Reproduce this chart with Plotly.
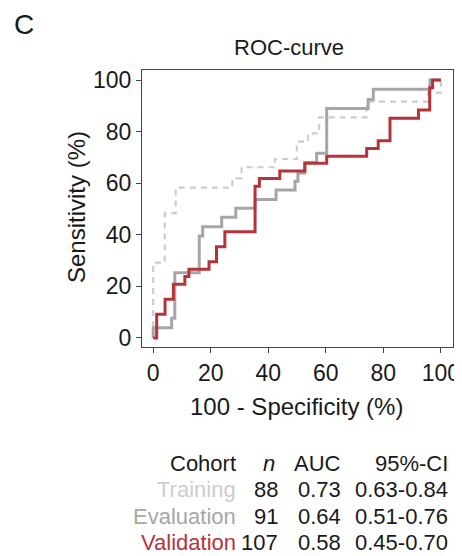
import plotly.graph_objects as go

# ---- data (step corners: x = 100 - specificity, y = sensitivity)
train_x = [0, 0, 4.0, 7.8, 27.5, 30.7, 42.3, 49.9, 53.8, 57.7, 74.2, 95.6, 100]
train_y = [0, 29.2, 48.4, 58.3, 61.9, 66.2, 69.4, 76.1, 79.3, 85.5, 91.6, 95.1, 100]

eval_x = [0, 0, 6.4, 7.5, 16.0, 17.2, 23.8, 28.7, 35.4, 42.7, 49.3, 50.3, 52.7, 56.8, 60.3, 74.7, 76.5, 96.2, 100]
eval_y = [0, 4.0, 7.6, 25.3, 39.5, 43.1, 46.8, 50.3, 53.7, 57.4, 60.8, 64.0, 68.0, 71.6, 89.0, 92.5, 96.4, 100, 100]

valid_x = [0, 1.2, 4.1, 7.0, 11.0, 12.4, 19.4, 22.0, 24.9, 35.4, 36.9, 44.0, 52.7, 60.3, 74.2, 78.2, 82.3, 92.2, 96.1, 97.1, 100]
valid_y = [0, 9.2, 15.0, 20.8, 23.8, 26.6, 29.6, 35.4, 41.2, 58.8, 61.8, 64.7, 67.7, 70.5, 73.5, 76.5, 85.2, 88.4, 97.0, 100, 100]

tick_vals = [0, 20, 40, 60, 80, 100]
tick_text = ["0", "20", "40", "60", "80", "100"]

cohorts = ["Training", "Evaluation", "Validation"]
n_vals = ["88", "91", "107"]
auc_vals = ["0.73", "0.64", "0.58"]
ci_vals = ["0.63-0.84", "0.51-0.76", "0.45-0.70"]

# ---- styling
C_TRAIN = "#cdcdcd"
C_EVAL = "#a6a6a8"
C_VALID = "#b5343a"
FONT = "Liberation Sans, Arial, sans-serif"
TXT = "#1a1a1a"

# The page body has an 8px default margin, so the figure is drawn at (8, 8).
OFF = 8
W, H = 462 - OFF, 556 - OFF
# plot area in page pixels: x 142..453, y 70..347
L, T = 142 - OFF, 70 - OFF
R = W - (453 - OFF)
B = H - (347 - OFF)

fig = go.Figure()
fig.add_trace(go.Scatter(x=train_x, y=train_y, mode="lines", line_shape="hv",
                         line=dict(color=C_TRAIN, width=2.2, dash="6px,5px"),
                         name="Training", showlegend=False, hoverinfo="skip"))
fig.add_trace(go.Scatter(x=eval_x, y=eval_y, mode="lines", line_shape="hv",
                         line=dict(color=C_EVAL, width=3),
                         name="Evaluation", showlegend=False, hoverinfo="skip"))
fig.add_trace(go.Scatter(x=valid_x, y=valid_y, mode="lines", line_shape="hv",
                         line=dict(color=C_VALID, width=3),
                         name="Validation", showlegend=False, hoverinfo="skip"))

axis_common = dict(
    showgrid=False, zeroline=False, showline=True, mirror=True, automargin=False,
    linecolor="#444444", linewidth=1.3,
    ticks="outside", ticklen=5, tickwidth=1.2, tickcolor="#444444",
    tickvals=tick_vals, ticktext=tick_text,
    tickfont=dict(family=FONT, size=23, color=TXT),
)
fig.update_xaxes(range=[-3.9, 104.2], **axis_common)
fig.update_yaxes(range=[-3.5, 103.9], **axis_common)

pw, ph = W - L - R, H - T - B


def px(x):
    return (x - OFF - L) / pw


def py(y):
    return (H - B - (y - OFF)) / ph


ann = []
ann.append(dict(text="C", x=px(12), y=py(24), xanchor="left", yanchor="middle",
                font=dict(family=FONT, size=28, color=TXT)))
ann.append(dict(text="ROC-curve", x=px(288.5), y=py(47.5), xanchor="center", yanchor="middle",
                font=dict(family=FONT, size=22, color=TXT)))
ann.append(dict(text="100 - Specificity (%)", x=px(296), y=py(406), xanchor="center", yanchor="middle",
                font=dict(family=FONT, size=24, color=TXT)))
ann.append(dict(text="Sensitivity (%)", x=px(76.5), y=py(207.5), xanchor="center", yanchor="middle",
                textangle=-90, font=dict(family=FONT, size=24, color=TXT)))

# table
header_y = 463
row_y = [489, 516, 542]
col_right = [238, 280, 343, 450]
ann.append(dict(text="Cohort", x=px(col_right[0]), y=py(header_y), xanchor="right", yanchor="middle",
                font=dict(family=FONT, size=22, color=TXT)))
ann.append(dict(text="<i>n</i>", x=px(277), y=py(header_y), xanchor="right", yanchor="middle",
                font=dict(family=FONT, size=22, color=TXT)))
ann.append(dict(text="AUC", x=px(col_right[2]), y=py(header_y), xanchor="right", yanchor="middle",
                font=dict(family=FONT, size=22, color=TXT)))
ann.append(dict(text="95%-CI", x=px(col_right[3]), y=py(header_y), xanchor="right", yanchor="middle",
                font=dict(family=FONT, size=22, color=TXT)))
row_colors = [C_TRAIN, C_EVAL, C_VALID]
for i in range(3):
    for j, val in enumerate([cohorts[i], n_vals[i], auc_vals[i], ci_vals[i]]):
        ann.append(dict(text=val, x=px(col_right[j]), y=py(row_y[i]), xanchor="right", yanchor="middle",
                        font=dict(family=FONT, size=22, color=row_colors[i] if j == 0 else TXT)))

for a in ann:
    a.update(xref="paper", yref="paper", showarrow=False)

fig.update_layout(
    width=W, height=H,
    margin=dict(l=L, r=R, t=T, b=B, pad=0, autoexpand=False),
    paper_bgcolor="white", plot_bgcolor="white",
    annotations=ann,
    showlegend=False,
)

fig.write_html("out.html")
